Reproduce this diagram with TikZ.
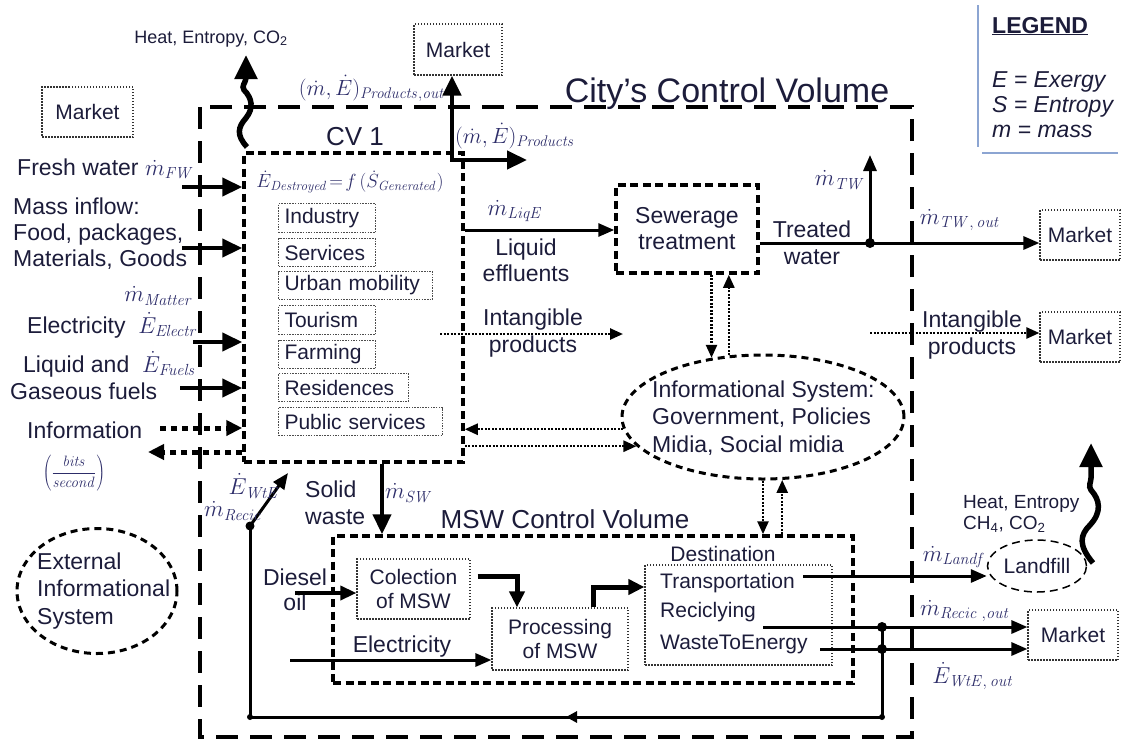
\RequirePackage{fix-cm}
\documentclass[tikz,border=0pt]{standalone}
\usepackage[no-math]{fontspec}
\setmainfont{Liberation Sans}
\usetikzlibrary{arrows.meta,shapes.geometric,decorations.markings}
\definecolor{txt}{RGB}{28,28,58}
\definecolor{mtxt}{RGB}{45,45,105}
\definecolor{lgd}{RGB}{140,165,210}
\newcommand\fz[2]{\fontsize{#1}{#2}\selectfont}
\tikzset{
  lbl/.style={inner sep=0pt, text=txt, font=\fz{23}{27}},
  mth/.style={inner sep=0pt, text=mtxt, font=\fz{23}{27}},
  citycv/.style={line width=4pt, dash pattern=on 22pt off 12pt},
  cvbox/.style={draw, line width=3.5pt, dash pattern=on 8pt off 4.5pt, inner sep=0pt},
  subbox/.style={draw=black!70, line width=1pt, dash pattern=on 1.5pt off 1.2pt, inner xsep=6pt, inner ysep=0pt, anchor=north west, text=txt, font=\fz{21}{25}, align=left},
  mktbox/.style={draw=black!80, line width=1.2pt, dash pattern=on 1.5pt off 1.5pt, inner sep=0pt, text=txt, font=\fz{21}{25}},
  thk/.style={line width=4.5pt, -{Triangle[length=20pt,width=18pt]}},
  med/.style={line width=3pt, -{Triangle[length=16pt,width=13pt]}},
  dotarr/.style={line width=2.5pt, dash pattern=on 2pt off 1.5pt, -{Triangle[length=13pt,width=11pt]}},
  bigdot/.style={line width=5pt, dash pattern=on 6pt off 5pt, -{Triangle[length=16pt,width=15pt]}},
  wave/.style={line width=5.5pt, -{Triangle[length=24pt,width=22pt]}},
  dashell/.style={ellipse, draw, line width=3pt, dash pattern=on 7pt off 5pt, inner sep=0pt},
  junction/.style={fill=black}
}
\begin{document}
\begin{tikzpicture}[x=1pt,y=-1pt]
\useasboundingbox (0,0) rectangle (1128,740);

% City's control volume
\draw[citycv] (200,107) rectangle (912,737);
\node[lbl, font=\fz{34}{38}, anchor=base] (citylbl) at (727,102) {City's Control Volume};

% Legend
\draw[lgd, line width=2.5pt] (978,5) -- (978,147);
\draw[lgd, line width=2.5pt] (982,153) -- (1118,153);
\node[lbl, anchor=base west, font=\bfseries\fz{23}{27}] (lg) at (992,33) {\underline{LEGEND}};
\node[lbl, anchor=base west, font=\itshape\fz{23}{27}] (lg1) at (992,87) {E = Exergy};
\node[lbl, anchor=base west, font=\itshape\fz{23}{27}] (lg2) at (992,112) {S = Entropy};
\node[lbl, anchor=base west, font=\itshape\fz{23}{27}] (lg3) at (992,137) {m = mass};

% Markets
\node[mktbox, minimum width=91pt, minimum height=50pt] (mk1) at (87.5,112) {Market};
\node[mktbox, minimum width=88pt, minimum height=51pt] (mk2) at (458,49.5) {Market};
\node[mktbox, minimum width=80pt, minimum height=50pt] (mk3) at (1080,235) {Market};
\node[mktbox, minimum width=80pt, minimum height=50pt] (mk4) at (1080,337) {Market};
\node[mktbox, minimum width=90pt, minimum height=50pt] (mk5) at (1073,635) {Market};

% CV1
\node[cvbox, minimum width=219pt, minimum height=309pt] (cv1) at (353.5,307.5) {};
\node[lbl, font=\fz{26}{30}, anchor=base] (cv1l) at (355,145) {CV 1};
\node[mth, font=\fz{19}{22}] (eq) at (350,182) {$\dot E_{\mathit{Destroyed}}\!=\!f\,(\dot S_{\mathit{Generated}})$};
\node[subbox, text width=85pt, minimum height=29pt] (ind) at (278,203) {Industry};
\node[subbox, text width=85pt, minimum height=28pt] (ser) at (278,238) {Services};
\node[subbox, text width=142pt, minimum height=28pt] (urb) at (278,271) {Urban mobility};
\node[subbox, text width=85pt, minimum height=29pt] (tou) at (278,305) {Tourism};
\node[subbox, text width=85pt, minimum height=28pt] (far) at (278,340) {Farming};
\node[subbox, text width=118pt, minimum height=28pt] (res) at (278,373) {Residences};
\node[subbox, text width=152pt, minimum height=28pt] (pub) at (278,407) {Public services};

% Heat wavy arrow (top left)
\node[lbl, font=\fz{18}{21}, anchor=base] (heat1) at (211,43) {Heat, Entropy, CO\textsubscript{2}};
\draw[wave] (247,147) .. controls (236,135) and (238,127) .. (246,118) .. controls (254,108) and (252,98) .. (244,90) .. controls (241,86) and (246,82) .. (246,78) -- (246,55);

% Products
\node[mth, font=\fz{22}{26}, anchor=base] (pout) at (372,95) {$(\dot m,\dot E)_{\mathit{Products,out}}$};
\node[mth, font=\fz{22}{26}, anchor=base] (pin) at (515,143) {$(\dot m,\dot E)_{\mathit{Products}}$};
\coordinate (pj) at (452,160);
\coordinate (pr) at (527,160);
\draw[line width=4.5pt, {Triangle[length=20pt,width=18pt]}-{Triangle[length=20pt,width=18pt]}] (pj |- mk2.south) -- (pj) -- (pr);

% Left inputs
\node[lbl, anchor=base west] (fw) at (17,175) {Fresh water\ $\color{mtxt}\dot m_{\mathit{FW}}$};
\node[lbl, anchor=west, align=left, font=\fz{23}{26}] (mi) at (13,234) {Mass inflow:\\Food, packages,\\Materials, Goods};
\node[mth, anchor=east] (mm) at (193,296) {$\dot m_{\mathit{Matter}}$};
\node[lbl, anchor=base west] (el1) at (27,333) {Electricity\ \ $\color{mtxt}\dot E_{\mathit{Electr}}$};
\node[lbl, anchor=base west] (lq1) at (23,372) {Liquid and\ \ $\color{mtxt}\dot E_{\mathit{Fuels}}$};
\node[lbl, anchor=base west] (gf) at (10,399) {Gaseous fuels};
\node[lbl, anchor=base west] (inf) at (27,438) {Information};
\node[mth, font=\fz{15}{17}] (bits) at (74,473) {$\left(\displaystyle\frac{\mathit{bits}}{\mathit{second}}\right)$};
\coordinate (iFW) at (182,187);
\coordinate (iMI) at (182,248);
\coordinate (iEL) at (193,342);
\coordinate (iFU) at (180,388);
\coordinate (iIN) at (160,428);
\coordinate (iOUT) at (148,452);
\draw[thk] (iFW) -- (iFW -| cv1.west);
\draw[thk] (iMI) -- (iMI -| cv1.west);
\draw[thk] (iEL) -- (iEL -| cv1.west);
\draw[thk] (iFU) -- (iFU -| cv1.west);
\draw[bigdot] (iIN) -- (iIN -| cv1.west);
\draw[bigdot] (iOUT -| cv1.west) -- (iOUT);

% External informational system
\node[dashell, minimum width=160pt, minimum height=125pt] (ext) at (97,591) {};
\node[lbl, anchor=west, align=left, font=\fz{23}{27.5}] (extt) at (37,591) {External\\Informational\\System};

% Sewerage
\node[cvbox, minimum width=142pt, minimum height=88pt, align=center, text=txt, font=\fz{23}{26}] (sew) at (687,229) {Sewerage\\treatment};
\node[mth] (mlq) at (515,211) {$\dot m_{\mathit{LiqE}}$};
\node[lbl, align=center, font=\fz{23}{26}] (lqe) at (526,260) {Liquid\\effluents};
\coordinate (lq) at (463,230);
\draw[med] (cv1.east |- lq) -- (lq -| sew.west);

% Intangible products (left)
\node[lbl, align=center, font=\fz{23}{27}] (int1) at (533,333) {Intangible\\products};
\coordinate (il1) at (440,334);
\coordinate (il2) at (623,334);
\draw[dotarr] (il1) -- (il2);

% Informational system
\node[dashell, minimum width=282pt, minimum height=124pt] (info) at (763,417) {};
\node[lbl, anchor=west, align=left, font=\fz{23}{27.5}] (infot) at (652,418) {Informational System:\\Government, Policies\\Midia, Social midia};
\draw[dotarr] (sew.south -| info.131) -- (info.131);
\draw[dotarr] (info.119.5) -- (sew.south -| info.119.5);
\draw[dotarr] (info.185) -- (cv1.east |- info.185);
\draw[dotarr] (cv1.east |- info.193) -- (info.193);

% Treated water
\coordinate (tw) at (870,243);
\coordinate (twu) at (870,155);
\draw[med] (sew.east |- tw) -- (tw -| mk3.west);
\draw[med] (tw) -- (twu);
\fill[junction] (tw) circle (5pt);
\node[lbl, align=center, font=\fz{23}{27}] (trw) at (812,243) {Treated\\water};
\node[mth] (mtw) at (840,180) {$\dot m_{\mathit{TW}}$};
\node[mth] (mtwo) at (960,220) {$\dot m_{\mathit{TW,\,out}}$};

% Intangible products (right)
\node[lbl, align=center, font=\fz{23}{27}] (int2) at (972,335) {Intangible\\products};
\coordinate (ir) at (870,333);
\draw[dotarr] (ir) -- (ir -| mk4.west);

% MSW control volume
\node[cvbox, minimum width=520pt, minimum height=147pt] (msw) at (593,609.5) {};
\node[lbl, font=\fz{26}{30}] (mswl) at (565,519) {MSW Control Volume};
\draw[dotarr] (info.south) -- (info.south |- msw.north);
\draw[dotarr] (info.287 |- msw.north) -- (info.287);

% Solid waste
\node[lbl, align=left, anchor=west, font=\fz{23}{27}] (swl) at (305,503) {Solid\\waste};
\node[mth] (msw1) at (409,493) {$\dot m_{\mathit{SW}}$};
\coordinate (swc) at (382,500);
\draw[thk] (cv1.south -| swc) -- (swc |- msw.north);

% MSW internal
\node[mktbox, minimum width=113pt, minimum height=60pt, align=center, font=\fz{21}{24}] (col) at (413.5,589) {Colection\\of MSW};
\node[mktbox, minimum width=136pt, minimum height=62pt, align=center, font=\fz{21}{24}] (proc) at (560,639) {Processing\\of MSW};
\node[lbl, font=\fz{21}{25}] (dstl) at (723,554) {Destination};
\node[mktbox, minimum width=187pt, minimum height=100pt] (dest) at (738.5,615) {};
\node[lbl, font=\fz{21}{25}, anchor=west] (dtr) at (660,583) {Transportation};
\node[lbl, font=\fz{21}{25}, anchor=west] (drc) at (660,612) {Reciclying};
\node[lbl, font=\fz{21}{25}, anchor=west] (dwe) at (660,644) {WasteToEnergy};

\node[lbl, align=center, font=\fz{23}{25}] (dsll) at (295,590) {Diesel\\oil};
\coordinate (dsl) at (295,593);
\draw[line width=3.5pt, -{Triangle[length=16pt,width=14pt]}] (dsl) -- (dsl -| col.west);
\node[lbl] (ell) at (402,647) {Electricity};
\coordinate (elc) at (290,660);
\draw[med] (elc) -- (elc -| proc.west);
\coordinate (cp) at (517,576);
\draw[line width=5pt, -{Triangle[length=16pt,width=15pt]}] ([xshift=7pt]col.east |- cp) -- (cp) -- (cp |- proc.north);
\coordinate (pd) at (593,587);
\draw[line width=5pt, -{Triangle[length=16pt,width=15pt]}] (pd |- proc.north) -- (pd) -- (pd -| dest.west);

% Landfill
\node[ellipse, draw, line width=1.5pt, dash pattern=on 8pt off 5pt, minimum width=99pt, minimum height=52pt, inner sep=0pt, text=txt, font=\fz{21}{25}] (land) at (1037,566) {Landfill};
\node[lbl, align=left, anchor=west, font=\fz{19}{21}] (hec) at (963,514) {Heat, Entropy\\CH\textsubscript{4}, CO\textsubscript{2}};
\draw[wave] (1093,563) .. controls (1078,545) and (1080,535) .. (1090,525) .. controls (1102,512) and (1100,500) .. (1091,490) .. controls (1088,486) and (1091,482) .. (1091,478) -- (1091,443);
\node[mth] (mlf) at (954,557) {$\dot m_{\mathit{Landf}}$};
\coordinate (trc) at (803,576);
\draw[med] (trc) -- (trc -| land.west);

% Recycling / WtE
\coordinate (rc) at (763,627);
\coordinate (we) at (820,649);
\coordinate (j1) at (882,627);
\coordinate (j2) at (882,649);
\coordinate (rb) at (882,717);
\coordinate (lb) at (250,717);
\coordinate (lt) at (250,526);
\coordinate (atip) at (288,473);
\draw[med] (rc) -- (rc -| mk5.west);
\draw[med] (we) -- (we -| mk5.west);
\draw[line width=3pt] (j1) -- (rb);
\draw[line width=3pt, decoration={markings, mark=at position 0.5 with {\arrow{Triangle[length=11pt,width=11pt]}}}, postaction={decorate}] (rb) -- (lb);
\draw[line width=3pt] (lb) -- (lt);
\draw[med] (lt) -- (atip);
\fill[junction] (j1) circle (5pt);
\fill[junction] (j2) circle (5pt);
\fill[junction] (rb) circle (3pt);
\fill[junction] (lb) circle (3pt);
\fill[junction] (lt) circle (4.5pt);
\node[mth] (ewte) at (254,486) {$\dot E_{\mathit{WtE}}$};
\node[mth] (mrec) at (233,511) {$\dot m_{\mathit{Recic}}$};
\node[mth] (mro) at (965,611) {$\dot m_{\mathit{Recic\;,out}}$};
\node[mth] (ewo) at (973,676) {$\dot E_{\mathit{WtE,\,out}}$};
\end{tikzpicture}
\end{document}
